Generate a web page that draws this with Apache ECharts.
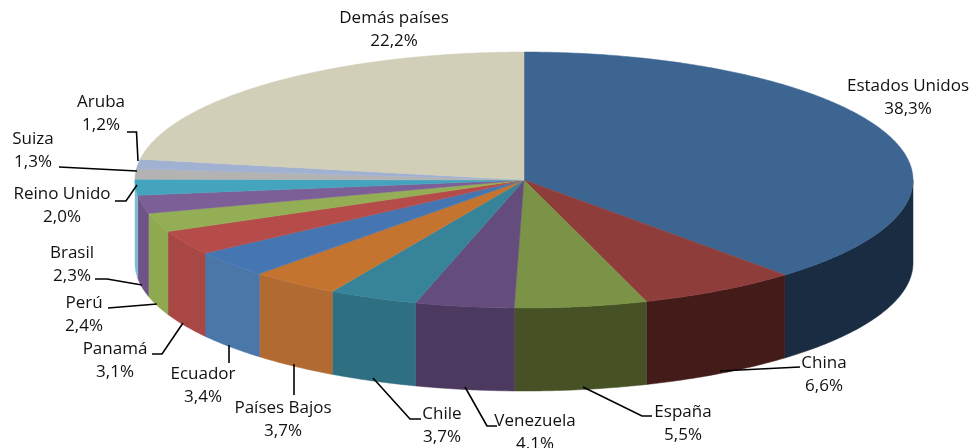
<!DOCTYPE html>
<html><head><meta charset="utf-8">
<style>html,body{margin:0;padding:0;background:#fff}#c{width:974px;height:448px}</style>
<script src="https://cdn.jsdelivr.net/npm/echarts@6/dist/echarts.min.js"></script>
</head><body><div id="c"></div>
<script>
const categories = ['Estados Unidos','China','España','Venezuela','Chile','Países Bajos','Ecuador','Panamá','Perú','Brasil','Reino Unido','Suiza','Aruba','Demás países'];
const values = [38.3,6.6,5.5,4.1,3.7,3.7,3.4,3.1,2.4,2.3,2.0,1.3,1.2,22.2];
const topColors = ['#3c6592','#8e3d3b','#7a9346','#644c7d','#37849a','#c4742f','#4676b2','#b64c49','#93ae54','#7d5f97','#45a4bd','#b3b3b3','#a0b1d1','#d1cfb8'];
const sideColors = ['#1a2c42','#431c1a','#465125','#4c3960','#2f6f82','#b06a32','#4a76a8','#a94744','#8ea950','#6f5288','#7cbdd0','#b3b3b3','#a0b1d1','#d1cfb8'];
const labelCenters = [[908,86],[824,363],[683,412],[535,421],[442,414],[283,408],[203,374],[115,349],[84,303],[72,253],[62,194],[33,139],[101,102],[394,18]];
const leaders = [
  null,
  [[720,371],[800,367]],
  [[583,387],[642,416],[652,416]],
  [[465,387],[487,426],[497,426]],
  [[373,378],[410,419],[421,419]],
  [[294,364],[294,395]],
  [[229,345],[229,363]],
  [[183,323],[162,354],[152,354]],
  [[157,304],[108,308]],
  [[142,285],[107,279],[95,279]],
  [[137,185],[126,201],[115,201]],
  [[137,171],[59,167]],
  [[138,161],[136.5,132],[127,132]],
  null
];
const cx = 524, cy = 180, rx = 389, ry = 128, depth = 83;
const percentBase = 100;
function startOf(i){ let s=0; for(let k=0;k<i;k++) s+=values[k]; return s/percentBase*Math.PI*2; }
function endOf(i){ return i===values.length-1 ? Math.PI*2 : startOf(i+1); }
function pt(a,dy){ return [cx+rx*Math.sin(a), cy-ry*Math.cos(a)+(dy||0)]; }
function arc(a0,a1,dy){ const n=Math.max(2,Math.ceil((a1-a0)*90)); const r=[]; for(let j=0;j<=n;j++) r.push(pt(a0+(a1-a0)*j/n,dy)); return r; }

const tableRows = categories.map((c,i)=>[c,values[i]]);
const chart = echarts.init(document.getElementById('c'));
chart.setOption({
  animation:false,
  backgroundColor:'#fff',
  series:[
    { type:'custom', coordinateSystem:'none', silent:true, z:1, data:tableRows, encode:{value:1},
      renderItem(p,api){
        const i=p.dataIndex; const a0=Math.max(startOf(i),Math.PI/2), a1=Math.min(endOf(i),Math.PI*1.5);
        if(a1<=a0) return {type:'group',children:[]};
        const pts=arc(a0,a1,0).concat(arc(a0,a1,depth).reverse());
        return {type:'polygon',shape:{points:pts},style:{fill:sideColors[i],stroke:sideColors[i],lineWidth:.5}};
      }},
    { type:'custom', coordinateSystem:'none', silent:true, z:2, data:tableRows, encode:{value:1},
      renderItem(p,api){
        const i=p.dataIndex; const a0=startOf(i), a1=endOf(i);
        const pts=[[cx,cy]].concat(arc(a0,a1,0));
        return {type:'polygon',shape:{points:pts},style:{fill:topColors[i],stroke:topColors[i],lineWidth:.5}};
      }},
    { type:'custom', coordinateSystem:'none', silent:true, z:3, data:tableRows, encode:{value:1},
      renderItem(p,api){
        const i=p.dataIndex, kids=[];
        if(leaders[i]) kids.push({type:'polyline',shape:{points:leaders[i]},style:{fill:null,stroke:'#000',lineWidth:1.6}});
        const pct=api.value(1).toFixed(1).replace('.',',')+'%';
        kids.push({type:'text',style:{x:labelCenters[i][0],y:labelCenters[i][1]-11.5,text:categories[i]+'\n'+pct,align:'center',verticalAlign:'top',font:'17px "Open Sans"',lineHeight:23,fill:'#111'}});
        return {type:'group',children:kids};
      }}
  ]
});
</script></body></html>
